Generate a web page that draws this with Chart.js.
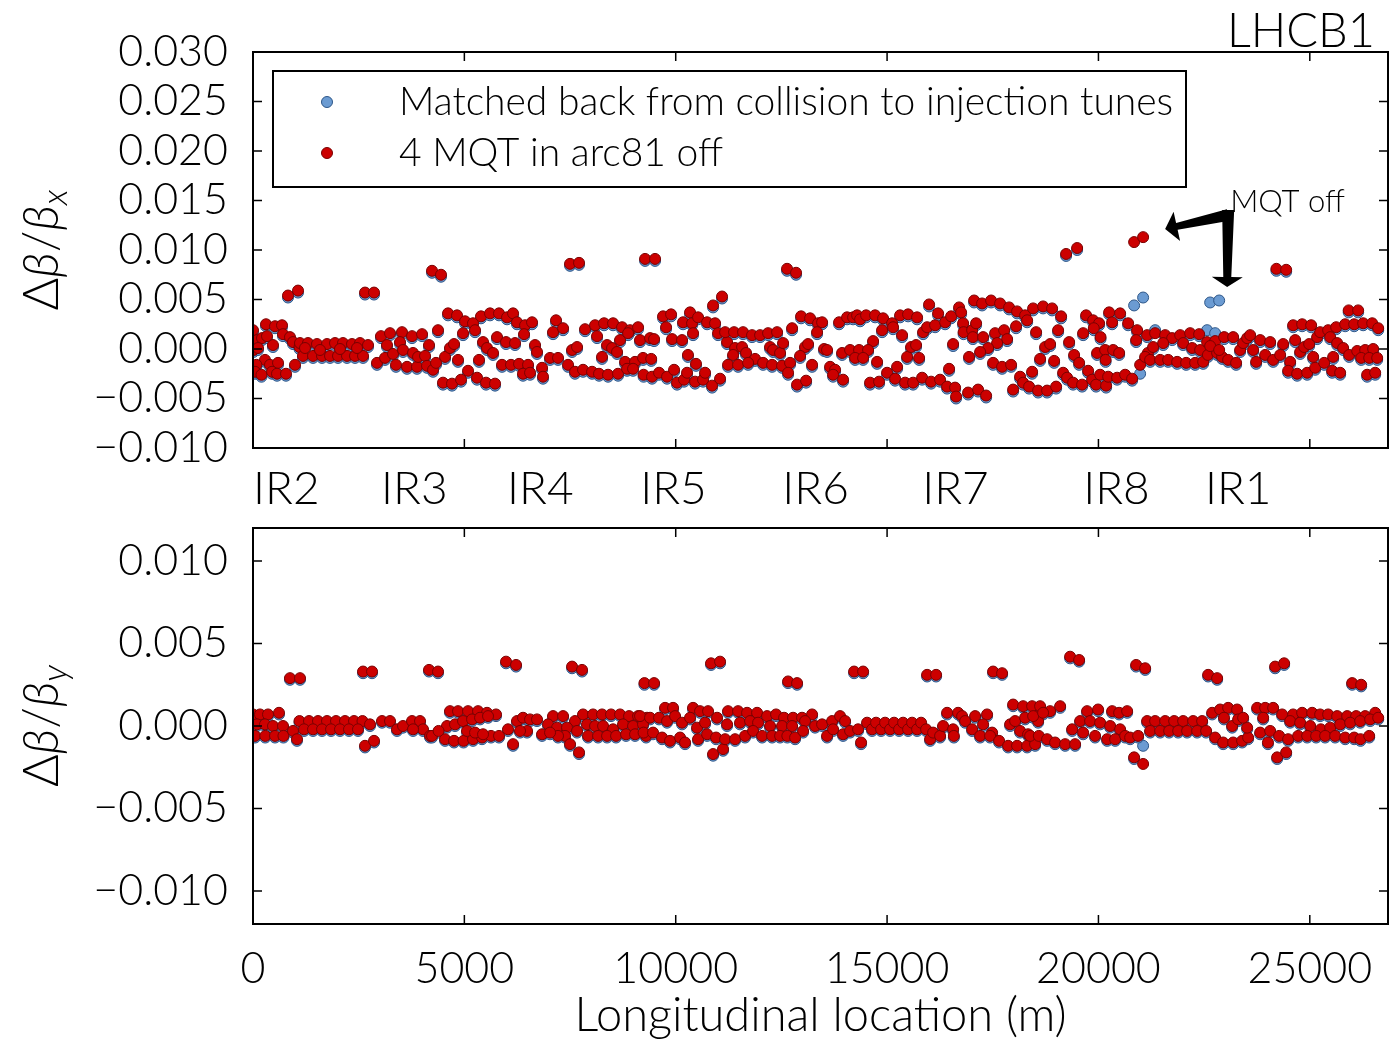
<!DOCTYPE html>
<html>
<head>
<meta charset="utf-8">
<script src="https://cdn.jsdelivr.net/npm/chart.js@4.4.1/dist/chart.umd.min.js"></script>
<style>
  html, body { margin: 0; padding: 0; background: #fff; }
  #wrap { position: relative; width: 1390px; height: 1039px; }
  .panel { position: absolute; left: 0; width: 1390px; }
  #panel-x { top: 0; height: 520px; }
  #panel-y { top: 520px; height: 519px; }
</style>
</head>
<body>
<div id="wrap">
  <div class="panel" id="panel-x"><canvas id="chart-x"></canvas></div>
  <div class="panel" id="panel-y"><canvas id="chart-y"></canvas></div>
</div>
<script>
// Beta-beating along the ring, LHC beam 1.
// All beta-beat values below are in units of 1e-4.
const UNIT = 1e-4;
const FONT = 'Lato';

const seriesLabels = ['Matched back from collision to injection tunes', '4 MQT in arc81 off'];
const irLabels = ['IR2', 'IR3', 'IR4', 'IR5', 'IR6', 'IR7', 'IR8', 'IR1'];
const irPositions = [0, 3030, 6010, 9160, 12520, 15830, 19640, 22520];

const xTickValues = [0, 5000, 10000, 15000, 20000, 25000];
const yTicksHor = [-0.010, -0.005, 0, 0.005, 0.010, 0.015, 0.020, 0.025, 0.030];
const yTicksVer = [-0.010, -0.005, 0, 0.005, 0.010];

// horizontal plane: BPM position (m), matched, MQT off
const sHor = [
  0, 95, 213, 10, 118, 284, 80, 47, 200, 402,
  592, 450, 568, 781, 473, 331, 308, 521, 686, 710,
  875, 946, 994, 1100, 828, 1065, 2650, 2863, 1112, 1301,
  1514, 1751, 1940, 2129, 2342, 2532, 2721, 1183, 1420, 1633,
  1822, 2011, 2224, 2413, 2603, 1230, 1585, 2058, 2461, 2934,
  3028, 3241, 3170, 3123, 3312, 3383, 3525, 3478, 3549, 3644,
  3762, 3786, 3880, 3999, 3904, 4070, 4164, 4117, 4259, 4330,
  4235, 4448, 4377, 4614, 4827, 5016, 5205, 4969, 5253, 4543,
  4661, 4756, 4850, 4495, 4708, 4921, 5087, 5300, 5513, 5726,
  5394, 5607, 5820, 6010, 6152, 6246, 6436, 6601, 5442, 5536,
  5678, 5347, 5773, 5986, 6199, 6412, 5891, 6104, 6294, 6507,
  6388, 6554, 6672, 6719, 7098, 7169, 7335, 6838, 6861, 7027,
  7216, 7453, 7548, 7666, 7618, 7808, 8021, 7855, 8092, 8305,
  8518, 8731, 8920, 9109, 8139, 8376, 8494, 8612, 8257, 8683,
  8873, 9156, 8186, 8399, 8636, 8802, 9038, 9227, 9240, 9393,
  7500, 7713, 9275, 9511, 8849, 8991, 9440, 9606, 9795, 9961,
  10032, 10197, 10268, 10458, 10647, 10694, 10860, 11049, 9420, 9488,
  9701, 9890, 9772, 9914, 10150, 10174, 10339, 10387, 10529, 10410,
  10742, 10931, 11002, 10884, 11096, 10290, 10480, 11215, 11404, 11357,
  11570, 11664, 11877, 12067, 12232, 12303, 12469, 12540, 11168, 11380,
  11593, 11806, 11996, 12185, 12398, 11238, 11475, 11712, 12280, 12516,
  12705, 12658, 12753, 12966, 13179, 13368, 13463, 13344, 13060, 12942,
  13131, 13226, 12871, 13084, 13510, 12634, 12847, 13580, 13652, 13770,
  13723, 13959, 13865, 14054, 14196, 14291, 14362, 14504, 14717, 14906,
  15119, 15308, 15497, 15710, 14882, 15142, 15355, 14669, 13936, 14125,
  14338, 14551, 14243, 14433, 14764, 14598, 14811, 15000, 15190, 15426,
  15616, 15829, 16042, 16254, 16420, 16609, 16633, 16917, 17153, 17343,
  15237, 15474, 15568, 15686, 15758, 15994, 15852, 15947, 16136, 16207,
  16373, 16515, 16704, 16751, 16467, 16562, 16799, 16810, 17012, 17030,
  17106, 16940, 17059, 17248, 17461, 17674, 17887, 18076, 18265, 18313,
  18455, 18691, 18904, 19117, 17272, 17556, 17769, 17840, 17603, 17390,
  17201, 18052, 17508, 17721, 17934, 18526, 19046, 18431, 18147, 18218,
  18360, 18573, 18786, 18999, 17982, 18620, 18739, 18857, 18952, 19307,
  19425, 19543, 19165, 19259, 19401, 19614, 19756, 19851, 19945, 20040,
  20182, 19709, 19874, 20016, 19890, 19638, 20050, 19969, 20158, 20170,
  20253, 19235, 19496, 20844, 21057, 20324, 20513, 20703, 20915, 20892,
  20348, 20490, 20230, 20442, 20632, 20797, 20986, 21152, 21341, 21578,
  21744, 21933, 22169, 22382, 21170, 21294, 21531, 21105, 21223, 21460,
  21649, 21862, 22075, 22288, 22477, 22004, 22217, 22406, 22571, 22761,
  22974, 23187, 22590, 22808, 22927, 23068, 23257, 23352, 23423, 23518,
  23589, 22643, 22856, 23660, 23731, 23826, 24062, 23944, 24133, 24299,
  24370, 24535, 24488, 24701, 24938, 25127, 25340, 25529, 25718, 24654,
  24772, 24867, 24985, 25080, 25174, 25245, 25434, 25482, 25553, 24606,
  24819, 25032, 25624, 25837, 26050, 26263, 26476, 26618, 25647, 25789,
  25931, 26121, 26310, 26499, 26215, 26405, 26594, 25920, 26144, 26357,
  26547, 24210, 24441
];
const dbxMatched = [
  17, 7, 9, -3, -1, -13, -18, -25, -28, -18,
  -16, -25, -27, -27, 2, 11, 23, 21, 22, 13,
  10, 5, -18, 0, 52, 57, 55, 55, 4, 4,
  3, 3, 4, 4, 3, 4, 2, -9, -9, -9,
  -9, -9, -9, -9, -9, -1, -3, -2, -1, -16,
  11, 14, 2, -11, -7, -18, 15, 5, -3, -20,
  11, -6, -20, 13, -10, -9, 2, -19, -23, -16,
  77, 73, 17, 34, 32, 26, 24, 14, 17, -10,
  -1, 3, -13, -36, -37, -33, -24, -31, -36, -37,
  31, 34, 34, 30, 34, 25, 22, 25, 5, -1,
  -6, -13, 10, 5, 4, 13, -18, -18, -17, -18,
  -27, -26, 2, -5, 15, 27, 19, -21, -30, -11,
  -11, -18, -3, 0, -25, -23, -25, 18, 22, 24,
  24, 20, 17, 20, 11, 2, -1, -5, -10, 7,
  14, 7, -27, -28, -27, -15, -15, -11, -28, 9,
  84, 85, 89, 89, -22, -22, -30, -26, -30, -23,
  -36, -33, -26, -35, -33, -26, -39, -32, -12, 8,
  31, 33, 20, 8, 7, 25, 35, 24, 30, 14,
  25, 24, 14, 42, 51, -8, -17, 5, -1, -8,
  0, -6, -12, -16, 0, -3, -6, 4, 15, 15,
  15, 12, 12, 14, 15, -18, -18, -16, -18, -19,
  -16, -26, 19, 31, 29, 24, 25, 15, 0, -9,
  3, -18, -38, -34, -2, 79, 75, -3, -20, -23,
  -28, -33, 25, 30, 30, 32, 28, 32, 32, 29,
  24, 32, 33, 30, 17, 20, 12, 6, -6, -3,
  -3, -3, -11, -11, -15, -36, -35, -26, -32, -36,
  -36, -31, -35, -33, -40, -41, -50, -46, -43, -49,
  -20, -10, 0, 2, -11, 43, 15, 20, 22, 34,
  25, 31, 40, 35, -22, 3, 24, 15, 17, 10,
  24, -10, 47, 44, 47, 44, 40, 36, 32, 27,
  39, 41, 39, 31, 10, 14, 17, 8, 4, -1,
  -5, 21, -16, -20, -18, 15, 17, -25, -30, -36,
  -40, -44, -44, -40, -43, -12, 0, 3, -14, 5,
  -8, -16, -26, -31, -36, -38, -24, -33, -38, -28,
  -39, 32, 27, 24, 19, 14, 10, -6, -3, -13,
  35, 94, 100, 44, 52, 25, 34, 24, 17, 7,
  -3, -6, -30, -31, -28, -32, -25, 12, 19, 12,
  9, 12, 14, 13, -6, 0, 4, -10, -13, -13,
  -13, -15, -16, -16, -15, 4, -1, -3, 19, 16,
  10, 10, -8, -6, -10, -13, -16, -3, 4, 9,
  12, 47, 49, -3, -15, 7, 5, -8, -13, -8,
  3, -15, -24, -27, -26, -21, -16, -24, -26, 7,
  -5, 0, 3, -10, 10, 15, 17, 10, -10, 22,
  23, 22, 20, 23, 23, 24, 24, 19, 4, -1,
  -8, -4, -3, -2, -11, -11, -11, 37, 37, -28,
  -26, 79, 78
];
const dbxMqtOff = [
  19, 9, 11, -1, 1, -11, -16, -23, -26, -16,
  -14, -23, -25, -25, 4, 13, 25, 23, 24, 15,
  12, 7, -16, 2, 54, 59, 57, 57, 6, 6,
  5, 5, 6, 6, 5, 6, 4, -7, -7, -7,
  -7, -7, -7, -7, -7, 1, -1, 0, 1, -14,
  13, 16, 4, -9, -5, -16, 17, 7, -1, -18,
  13, -4, -18, 15, -8, -7, 4, -17, -21, -14,
  79, 75, 19, 36, 34, 28, 26, 16, 19, -8,
  1, 5, -11, -34, -35, -31, -22, -29, -34, -35,
  33, 36, 36, 32, 36, 27, 24, 27, 7, 1,
  -4, -11, 12, 7, 6, 15, -16, -16, -15, -16,
  -25, -24, 4, -3, 17, 29, 21, -19, -28, -9,
  -9, -16, -1, 2, -23, -21, -23, 20, 24, 26,
  26, 22, 19, 22, 13, 4, 1, -3, -8, 9,
  16, 9, -25, -26, -25, -13, -13, -9, -26, 11,
  86, 87, 91, 91, -20, -20, -28, -24, -28, -21,
  -34, -31, -24, -33, -31, -24, -37, -30, -10, 10,
  33, 35, 22, 10, 9, 27, 37, 26, 32, 16,
  27, 26, 16, 44, 53, -6, -15, 7, 1, -6,
  2, -4, -10, -14, 2, -1, -4, 6, 17, 17,
  17, 14, 14, 16, 17, -16, -16, -14, -16, -17,
  -14, -24, 21, 33, 31, 26, 27, 17, 2, -7,
  5, -16, -36, -32, 0, 81, 77, -1, -18, -21,
  -26, -31, 27, 32, 32, 34, 30, 34, 34, 31,
  26, 34, 35, 32, 19, 22, 14, 8, -4, -1,
  -1, -1, -9, -9, -13, -34, -33, -24, -30, -34,
  -34, -29, -33, -31, -38, -39, -48, -44, -41, -47,
  -18, -8, 2, 4, -9, 45, 17, 22, 24, 36,
  27, 33, 42, 37, -20, 5, 26, 17, 19, 12,
  26, -8, 49, 46, 49, 46, 42, 38, 34, 29,
  41, 43, 41, 33, 12, 16, 19, 10, 6, 1,
  -3, 23, -14, -18, -16, 17, 19, -23, -28, -34,
  -38, -42, -42, -38, -41, -10, 2, 5, -12, 7,
  -6, -14, -24, -29, -34, -36, -22, -31, -36, -26,
  -37, 34, 29, 26, 21, 16, 12, -4, -1, -11,
  37, 96, 102, 108, 113, 27, 36, 26, 19, 9,
  -1, -4, -28, -29, -26, -30, -16, 14, 16, 14,
  11, 14, 16, 15, -4, 2, 6, -8, -11, -11,
  -11, -13, -14, -14, -13, 6, 1, -1, 7, 8,
  12, 12, -6, -4, -8, -11, -14, -1, 6, 11,
  14, 3, -1, -1, -13, 9, 7, -6, -11, -6,
  5, -13, -22, -25, -24, -19, -14, -22, -24, 9,
  -3, 2, 5, -8, 12, 17, 19, 12, -8, 24,
  25, 24, 22, 25, 25, 26, 26, 21, 6, 1,
  -6, -2, -1, 0, -9, -9, -9, 39, 39, -26,
  -24, 81, 80
];

// vertical plane: BPM position (m), matched, MQT off
const sVer = [
  875, 1112, 2603, 2816, 4164, 4377, 5986, 6223, 7548, 7784,
  2650, 2863, 0, 166, 355, 615, 95, 284, 473, 710,
  47, 290, 521, 720, 946, 1041, 1100, 1325, 1538, 1751,
  1964, 2177, 2390, 2590, 1207, 1420, 1633, 1846, 2058, 2271,
  2484, 2768, 3052, 3241, 3407, 3549, 3762, 3951, 4022, 3786,
  4188, 4661, 4850, 5087, 5324, 5536, 5749, 4590, 4779, 4969,
  5182, 5371, 5560, 4543, 4756, 4980, 5205, 5418, 5631, 5820,
  4235, 4390, 5063, 5253, 5442, 6033, 6152, 6246, 6388, 6554,
  6719, 6483, 6317, 6838, 7098, 7335, 7618, 6980, 7193, 7429,
  7382, 7500, 7713, 7216, 7027, 7666, 7808, 8044, 8257, 8470,
  8683, 8896, 9109, 9322, 7902, 8092, 8281, 8518, 8754, 8991,
  9227, 7926, 8163, 8376, 8589, 8825, 9038, 9300, 9260, 9488,
  10836, 11049, 12658, 12871, 14220, 14433, 15947, 16160, 17508, 17721,
  10884, 11120, 9156, 9393, 9606, 9748, 9937, 10410, 10576, 10765,
  10978, 9795, 9985, 10150, 10339, 10505, 10694, 9240, 9464, 9677,
  9866, 10103, 10221, 10529, 10742, 10955, 11168, 11238, 11475, 11688,
  11925, 12161, 12374, 12564, 12776, 12989, 13226, 11215, 11522, 11759,
  11948, 12232, 12516, 12753, 13060, 13297, 11404, 11641, 11830, 12043,
  12280, 12469, 12640, 12824, 13013, 13463, 13581, 13699, 13888, 14007,
  13723, 13959, 14125, 14314, 14385, 14527, 14645, 14740, 14858, 14953,
  15071, 15166, 15284, 15379, 15497, 15592, 15710, 15805, 15923, 16018,
  16089, 16420, 16680, 16775, 17083, 17366, 16254, 16325, 16562, 16846,
  17012, 17272, 17485, 16580, 17201, 17437, 17650, 17863, 18076, 18313,
  18502, 17982, 18218, 18431, 17911, 18147, 18336, 18029, 18265, 18549,
  18573, 19330, 19543, 20892, 21105, 22595, 22808, 24180, 24393, 26002,
  26215, 20844, 21057, 24228, 24441, 18620, 18857, 19094, 18455, 18691,
  18384, 18590, 18786, 18975, 19212, 19448, 19378, 19567, 19732, 19992,
  20324, 20490, 20679, 19803, 20040, 20277, 20513, 19638, 19921, 20206,
  20395, 20632, 20750, 20939, 21152, 21341, 21578, 21791, 22004, 22240,
  22453, 21223, 21460, 21673, 21886, 22098, 22335, 22548, 22690, 22879,
  23068, 23281, 22761, 22950, 23187, 23399, 23541, 22970, 23163, 23305,
  23518, 23423, 23755, 23944, 24133, 24346, 24606, 24819, 25056, 25245,
  25434, 25647, 25884, 26097, 26310, 26547, 23897, 24535, 24772, 25009,
  25260, 25482, 25718, 25955, 26192, 26428, 26618, 23826, 24062, 24275,
  24488, 24724, 24938, 25150, 25363, 25600, 25837, 26050, 26200, 26405,
  24010
];
const dbyMatched = [
  28, 28, 32, 32, 33, 32, 38, 36, 35, 33,
  -13, -10, 6, 6, 6, 7, 0, 0, -1, -1,
  -7, -7, -7, -7, -4, -9, 2, 2, 2, 2,
  2, 2, 2, 2, -3, -3, -3, -3, -3, -3,
  -3, 0, 2, 2, -3, -1, 2, 2, -3, -3,
  -7, 8, 8, 8, 8, 7, 6, -1, 0, 2,
  3, 4, 5, -9, -10, -10, -9, -8, -7, -7,
  -7, -4, -4, -5, -6, -3, -12, 2, 4, 3,
  3, -4, -4, -6, 5, 5, 2, 0, -2, -2,
  -7, -12, -17, -7, -5, -4, 6, 6, 6, 6,
  6, 5, 5, 4, 0, -1, -1, -3, 0, -1,
  0, -7, -7, -7, -7, -6, -6, -7, 25, 25,
  37, 38, 26, 25, 32, 32, 30, 30, 32, 31,
  -18, -15, 5, 4, 4, 10, 10, 10, 8, 8,
  4, 2, 5, 1, 4, -2, 1, -5, -5, -8,
  -10, -8, -11, -9, -6, -8, -9, 8, 8, 7,
  7, 5, 6, 4, 4, 4, 6, 0, 1, 2,
  1, -1, -1, -1, 2, -1, -9, -7, -4, -7,
  -7, -7, -7, -8, -4, 0, -7, 2, 5, 2,
  -3, -6, -4, -3, -11, 1, -3, 1, -3, 1,
  -3, 1, -3, 1, -3, 1, -3, 1, -3, -9,
  -5, 7, 7, 5, 5, 6, -7, -1, -3, 2,
  -3, 0, -5, -7, -7, -7, -10, -13, -13, -13,
  -12, 12, 11, 11, 0, -4, -6, 2, 4, 5,
  2, 41, 39, 36, 34, 30, 28, 35, 37, 25,
  24, -20, -12, -20, -17, 11, 8, 11, 5, 7,
  -7, -7, -9, -11, -12, -12, -3, 2, 8, 9,
  8, 7, 8, 2, 1, -1, -3, -5, -7, -9,
  -9, -7, -8, -7, 2, 2, 2, 2, 2, 2,
  2, -4, -4, -4, -4, -4, -4, -4, 7, 9,
  10, 9, -8, -11, -11, -10, -8, 4, -1, 3,
  -2, 4, 10, 10, 10, 6, 6, 7, 7, 6,
  6, 5, 5, 5, 5, 7, 4, 2, 1, -1,
  -3, -2, 0, 1, 2, 3, 4, -5, -4, -7,
  -9, -7, -7, -7, -7, -7, -8, -8, -9, -7,
  -11
];
const dbyMqtOff = [
  29, 29, 33, 33, 34, 33, 39, 37, 36, 34,
  -12, -9, 7, 7, 7, 8, 1, 1, 0, 0,
  -6, -6, -6, -6, -3, -8, 3, 3, 3, 3,
  3, 3, 3, 3, -2, -2, -2, -2, -2, -2,
  -2, 1, 3, 3, -2, 0, 3, 3, -2, -2,
  -6, 9, 9, 9, 9, 8, 7, 0, 1, 3,
  4, 5, 6, -8, -9, -9, -8, -7, -6, -6,
  -6, -3, -3, -4, -5, -2, -11, 3, 5, 4,
  4, -3, -3, -5, 6, 6, 3, 1, -1, -1,
  -6, -11, -16, -6, -4, -3, 7, 7, 7, 7,
  7, 6, 6, 5, 1, 0, 0, -2, 1, 0,
  1, -6, -6, -6, -6, -5, -5, -6, 26, 26,
  38, 39, 27, 26, 33, 33, 31, 31, 33, 32,
  -17, -14, 6, 5, 5, 11, 11, 11, 9, 9,
  5, 3, 6, 2, 5, -1, 2, -4, -4, -7,
  -9, -7, -10, -8, -5, -7, -8, 9, 9, 8,
  8, 6, 7, 5, 5, 5, 7, 1, 2, 3,
  2, 0, 0, 0, 3, 0, -8, -6, -3, -6,
  -6, -6, -6, -7, -3, 1, -6, 3, 6, 3,
  -2, -5, -3, -2, -10, 2, -2, 2, -2, 2,
  -2, 2, -2, 2, -2, 2, -2, 2, -2, -8,
  -4, 8, 8, 6, 6, 7, -6, 0, -2, 3,
  -2, 1, -4, -6, -6, -6, -9, -12, -12, -12,
  -11, 13, 12, 12, 1, -3, -5, 3, 5, 6,
  3, 42, 40, 37, 35, 31, 29, 36, 38, 26,
  25, -19, -23, -19, -16, 12, 9, 12, 6, 8,
  -6, -6, -8, -10, -11, -11, -2, 3, 9, 10,
  9, 8, 9, 3, 2, 0, -2, -4, -6, -8,
  -8, -6, -7, -6, 3, 3, 3, 3, 3, 3,
  3, -3, -3, -3, -3, -3, -3, -3, 8, 10,
  11, 10, -7, -10, -10, -9, -7, 5, 0, 4,
  -1, 5, 11, 11, 11, 7, 7, 8, 8, 7,
  7, 6, 6, 6, 6, 8, 5, 3, 2, 0,
  -2, -1, 1, 2, 3, 4, 5, -4, -3, -6,
  -8, -6, -6, -6, -6, -6, -7, -7, -8, -6,
  -10
];

const S_MAX = 26850;

const COLORS = {
  matched: { fill: '#6b9bd2', edge: '#2d5688' },
  mqtOff: { fill: '#cc0000', edge: '#7a0000' },
};

function toPoints(s, v) {
  return s.map((x, i) => ({ x: x, y: v[i] * UNIT }));
}

function fmtTick(val) {
  const txt = Math.abs(val).toFixed(3);
  return (val < -1e-9 ? '\u2212' : '') + txt;
}

function makeDatasets(s, matched, mqtOff) {
  return [
    {
      label: seriesLabels[0],
      data: toPoints(s, matched),
      backgroundColor: COLORS.matched.fill,
      borderColor: COLORS.matched.edge,
      order: 2,
    },
    {
      label: seriesLabels[1],
      data: toPoints(s, mqtOff),
      backgroundColor: COLORS.mqtOff.fill,
      borderColor: COLORS.mqtOff.edge,
      order: 1,
    },
  ];
}

// box round the plot plus inward tick marks on every side
const frameTicks = {
  id: 'frameTicks',
  afterDraw(chart) {
    const { ctx, chartArea: a, scales: { x, y } } = chart;
    ctx.save();
    ctx.strokeStyle = '#000';
    ctx.lineWidth = 1.5;
    ctx.beginPath();
    x.ticks.forEach(t => {
      const px = x.getPixelForValue(t.value);
      ctx.moveTo(px, a.bottom); ctx.lineTo(px, a.bottom - 9);
      ctx.moveTo(px, a.top); ctx.lineTo(px, a.top + 9);
    });
    y.ticks.forEach(t => {
      const py = y.getPixelForValue(t.value);
      ctx.moveTo(a.left, py); ctx.lineTo(a.left + 9, py);
      ctx.moveTo(a.right, py); ctx.lineTo(a.right - 9, py);
    });
    ctx.stroke();
    ctx.lineWidth = 2;
    ctx.strokeRect(a.left, a.top, a.right - a.left, a.bottom - a.top);
    ctx.restore();
  },
};

// rotated y title with italic beta and a subscript
function axisTitle(sub) {
  return {
    id: 'axisTitle',
    afterDraw(chart) {
      const { ctx, chartArea: a } = chart;
      const parts = [['\u0394', false, false], ['\u03b2', true, false], ['/', false, false], ['\u03b2', true, false], [sub, true, true]];
      const fontOf = p => (p[1] ? 'italic ' : '') + '300 ' + (p[2] ? 36 : 50) + 'px ' + FONT;
      ctx.save();
      ctx.translate(58, (a.top + a.bottom) / 2);
      ctx.rotate(-Math.PI / 2);
      ctx.fillStyle = '#000';
      ctx.textBaseline = 'alphabetic';
      ctx.textAlign = 'left';
      let total = 0;
      parts.forEach(p => { ctx.font = fontOf(p); total += ctx.measureText(p[0]).width; });
      let cx = -total / 2;
      parts.forEach(p => {
        ctx.font = fontOf(p);
        ctx.fillText(p[0], cx, p[2] ? 9 : 0);
        cx += ctx.measureText(p[0]).width;
      });
      ctx.restore();
    },
  };
}

function fancyArrow(ctx, sx, sy, tx, ty, wStart, wEnd, headLen, headWidth) {
  const dx = tx - sx, dy = ty - sy, len = Math.hypot(dx, dy);
  const ux = dx / len, uy = dy / len, nx = -uy, ny = ux;
  const bx = tx - ux * headLen, by = ty - uy * headLen;
  ctx.beginPath();
  ctx.moveTo(sx + nx * wStart / 2, sy + ny * wStart / 2);
  ctx.lineTo(bx + nx * wEnd / 2, by + ny * wEnd / 2);
  ctx.lineTo(bx + nx * headWidth / 2, by + ny * headWidth / 2);
  ctx.lineTo(tx, ty);
  ctx.lineTo(bx - nx * headWidth / 2, by - ny * headWidth / 2);
  ctx.lineTo(bx - nx * wEnd / 2, by - ny * wEnd / 2);
  ctx.lineTo(sx - nx * wStart / 2, sy - ny * wStart / 2);
  ctx.closePath();
  ctx.fill();
}

// legend, beam name, IR names and the "MQT off" note
const topDecor = {
  id: 'topDecor',
  afterDraw(chart) {
    const { ctx, chartArea: a, scales: { x, y } } = chart;
    ctx.save();

    // legend box
    const lx = a.left + 20, ly = a.top + 19, lw = 913, lh = 116;
    ctx.fillStyle = '#fff';
    ctx.fillRect(lx, ly, lw, lh);
    ctx.strokeStyle = '#000';
    ctx.lineWidth = 2;
    ctx.strokeRect(lx, ly, lw, lh);
    const rows = [[COLORS.matched, ly + 31], [COLORS.mqtOff, ly + 82]];
    ctx.font = '300 39px ' + FONT;
    ctx.textBaseline = 'middle';
    ctx.textAlign = 'left';
    rows.forEach((r, i) => {
      ctx.beginPath();
      ctx.arc(lx + 54, r[1], 5.5, 0, Math.PI * 2);
      ctx.fillStyle = r[0].fill;
      ctx.fill();
      ctx.lineWidth = 1;
      ctx.strokeStyle = r[0].edge;
      ctx.stroke();
      ctx.fillStyle = '#000';
      ctx.fillText(seriesLabels[i], lx + 126, r[1]);
    });

    // beam name
    ctx.font = '300 47px ' + FONT;
    ctx.textAlign = 'right';
    ctx.textBaseline = 'alphabetic';
    ctx.fillText('LHCB1', a.right - 13, a.top - 5);

    // IR names under the top panel
    ctx.font = '300 46px ' + FONT;
    ctx.textAlign = 'left';
    ctx.textBaseline = 'middle';
    irLabels.forEach((lab, i) => {
      ctx.fillText(lab, x.getPixelForValue(irPositions[i]), a.bottom + 41);
    });

    // MQT off note and arrows
    const sx = x.getPixelForValue(23069), sy = y.getPixelForValue(0.01404);
    ctx.font = '300 31px ' + FONT;
    ctx.textBaseline = 'alphabetic';
    ctx.fillText('MQT off', sx + 2, sy + 2);
    fancyArrow(ctx, sx, sy + 5, x.getPixelForValue(21578), y.getPixelForValue(0.01212), 12, 7, 12, 30);
    fancyArrow(ctx, sx, sy, x.getPixelForValue(23045), y.getPixelForValue(0.00626), 12, 8, 10, 31);
    ctx.restore();
  },
};

function makeChart(canvasId, cfg) {
  const tickFont = { family: FONT, size: 43, weight: '300' };
  return new Chart(document.getElementById(canvasId), {
    type: 'scatter',
    data: { datasets: makeDatasets(cfg.s, cfg.matched, cfg.mqtOff) },
    options: {
      responsive: true,
      maintainAspectRatio: false,
      animation: false,
      layout: { autoPadding: false, padding: { top: cfg.padTop, right: 2, left: 0, bottom: 0 } },
      datasets: {
        scatter: { pointRadius: 5.5, pointHoverRadius: 5.5, pointBorderWidth: 1, clip: 0 },
      },
      plugins: { legend: { display: false }, tooltip: { enabled: false } },
      scales: {
        x: {
          type: 'linear',
          min: 0,
          max: S_MAX,
          grid: { display: false, drawTicks: false },
          border: { display: false },
          afterBuildTicks: s => { s.ticks = xTickValues.map(v => ({ value: v })); },
          ticks: {
            display: cfg.xLabels,
            autoSkip: false,
            font: tickFont,
            color: '#000',
            padding: 19,
            maxRotation: 0,
            callback: v => String(v),
          },
          title: {
            display: cfg.xLabels,
            text: 'Longitudinal location (m)',
            color: '#000',
            font: { family: FONT, size: 47, weight: '300', lineHeight: 1.0 },
            padding: 0,
          },
          afterFit: s => {
            s.height = cfg.xHeight;
            s.paddingLeft = 0; s.paddingRight = 0;
          },
        },
        y: {
          min: cfg.yMin,
          max: cfg.yMax,
          grid: { display: false, drawTicks: false },
          border: { display: false },
          afterBuildTicks: s => { s.ticks = cfg.yTicks.map(v => ({ value: v })); },
          ticks: {
            autoSkip: false,
            font: tickFont,
            color: '#000',
            padding: 25,
            callback: fmtTick,
          },
          afterFit: s => {
            s.width = 253;
            s.paddingTop = 0; s.paddingBottom = 0;
          },
        },
      },
    },
    plugins: cfg.plugins,
  });
}

makeChart('chart-x', {
  s: sHor, matched: dbxMatched, mqtOff: dbxMqtOff, yTicks: yTicksHor,
  yMin: -0.010, yMax: 0.030, padTop: 52, xHeight: 72, xLabels: false,
  plugins: [frameTicks, axisTitle('x'), topDecor],
});

makeChart('chart-y', {
  s: sVer, matched: dbyMatched, mqtOff: dbyMqtOff, yTicks: yTicksVer,
  yMin: -0.012, yMax: 0.012, padTop: 8, xHeight: 115, xLabels: true,
  plugins: [frameTicks, axisTitle('y')],
});
</script>
</body>
</html>
